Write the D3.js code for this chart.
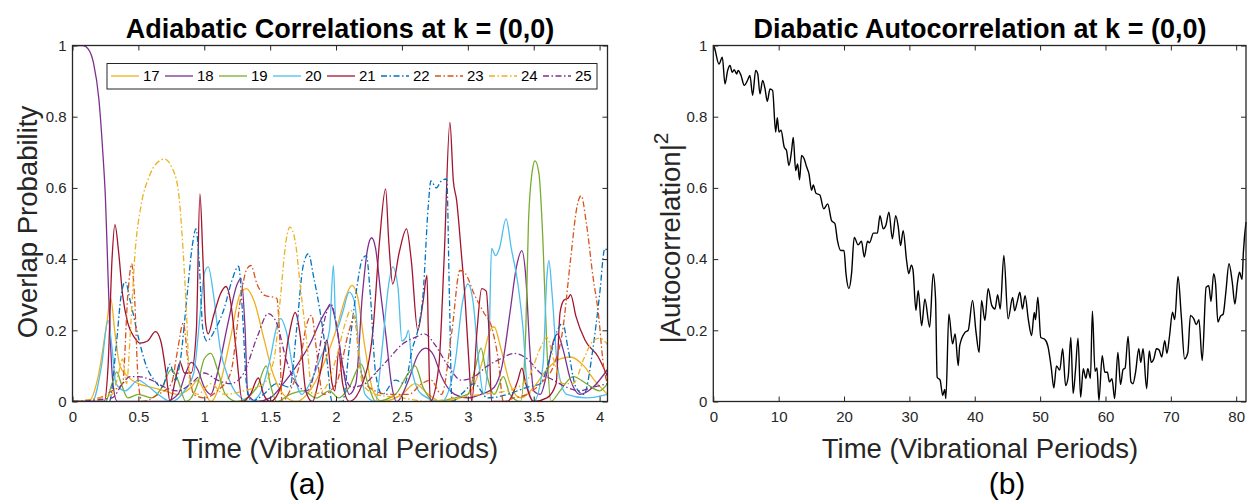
<!DOCTYPE html>
<meta charset="utf-8">
<style>

body {
  margin: 0;
  background: #fff;
  font-family: "Liberation Sans", Arial, Helvetica, sans-serif;
}

.tick line {
  stroke: #262626;
}

.frame {
  fill: none;
  stroke: #262626;
  stroke-width: 1.3px;
}

.title {
  font-size: 27px;
  font-weight: bold;
  text-anchor: middle;
  fill: #000;
}

.label {
  font-size: 27.5px;
  text-anchor: middle;
  fill: #262626;
}

.panel {
  font-size: 30px;
  text-anchor: middle;
  fill: #000;
}

.legend text {
  font-size: 15px;
  fill: #000;
}

</style>

<svg width="1247" height="500"></svg>
<script src="https://d3js.org/d3.v7.min.js"></script>
<script>

// ---- data ----
var leftXTicks = [0, 0.5, 1, 1.5, 2, 2.5, 3, 3.5, 4];
var yTicks = [0, 0.2, 0.4, 0.6, 0.8, 1];
var rightXTicks = [0, 10, 20, 30, 40, 50, 60, 70, 80];

var stateNames = ["17", "18", "19", "20", "21", "22", "23", "24", "25"];
var stateColors = ["#EDB120", "#7E2F8E", "#77AC30", "#4DBEEE", "#A2142F", "#0072BD", "#D95319", "#EDB120", "#7E2F8E"];
var stateDashed = [false, false, false, false, false, true, true, true, true];

var s17 = [[0,0],[0.12,0],[0.2,0.08],[0.26,0.22],[0.29,0.29],[0.32,0.2],[0.36,0.1],[0.42,0.07],[0.5,0.05],[0.6,0.04],[0.7,0.03],[0.8,0.02],[0.9,0.04],[0.95,0.06],[1.0,0.03],[1.05,0.0],[1.12,0.05],[1.2,0.18],[1.27,0.3],[1.32,0.317],[1.38,0.28],[1.45,0.18],[1.52,0.08],[1.6,0.02],[1.7,0.0],[1.8,0.03],[1.9,0.1],[2.0,0.2],[2.08,0.3],[2.12,0.326],[2.16,0.3],[2.22,0.15],[2.28,0.03],[2.35,0.0],[2.5,0.02],[2.6,0.05],[2.7,0.02],[2.8,0.0],[3.0,0.02],[3.1,0.1],[3.17,0.2],[3.2,0.21],[3.25,0.15],[3.32,0.05],[3.4,0.01],[3.5,0.04],[3.6,0.09],[3.7,0.12],[3.78,0.125],[3.88,0.1],[3.96,0.06],[4.06,0.02]];
var s18 = [[0,1],[0.08,1],[0.12,0.99],[0.16,0.95],[0.2,0.85],[0.23,0.7],[0.25,0.57],[0.27,0.35],[0.29,0.15],[0.31,0.04],[0.34,0],[0.5,0],[0.7,0],[0.8,0.02],[0.86,0.08],[0.9,0.11],[0.95,0.09],[1.0,0.04],[1.05,0.02],[1.1,0.08],[1.18,0.22],[1.25,0.33],[1.28,0.346],[1.31,0.2],[1.33,0.02],[1.4,0.0],[1.5,0.01],[1.6,0.05],[1.7,0.1],[1.8,0.16],[1.9,0.24],[1.96,0.27],[2.0,0.22],[2.05,0.1],[2.1,0.02],[2.15,0.05],[2.2,0.3],[2.24,0.43],[2.27,0.46],[2.3,0.43],[2.34,0.3],[2.38,0.18],[2.42,0.05],[2.46,0],[2.55,0.06],[2.62,0.13],[2.68,0.15],[2.74,0.13],[2.8,0.07],[2.9,0.02],[3.0,0.01],[3.1,0.02],[3.2,0.04],[3.26,0.1],[3.32,0.25],[3.37,0.38],[3.41,0.424],[3.44,0.35],[3.47,0.15],[3.5,0.03],[3.55,0.02],[3.6,0.08],[3.65,0.17],[3.68,0.19],[3.72,0.15],[3.78,0.06],[3.85,0.02],[3.95,0.04],[4.06,0.09]];
var s19 = [[0,0],[0.25,0],[0.3,0.05],[0.335,0.083],[0.37,0.05],[0.42,0.01],[0.5,0.02],[0.6,0.01],[0.68,0.04],[0.75,0.09],[0.8,0.06],[0.86,0.0],[0.95,0.05],[1.0,0.12],[1.05,0.135],[1.1,0.09],[1.16,0.02],[1.25,0.0],[1.4,0.04],[1.47,0.1],[1.5,0.05],[1.55,0.0],[1.65,0.02],[1.75,0.03],[1.85,0.01],[1.95,0.03],[2.02,0.01],[2.1,0.04],[2.19,0.105],[2.25,0.04],[2.3,0.0],[2.45,0.02],[2.55,0.08],[2.6,0.1],[2.66,0.04],[2.75,0.0],[2.9,0.01],[3.0,0.02],[3.06,0.1],[3.1,0.15],[3.14,0.08],[3.2,0.02],[3.27,0.07],[3.32,0.02],[3.4,0.0],[3.44,0.2],[3.46,0.5],[3.49,0.65],[3.51,0.676],[3.54,0.64],[3.57,0.45],[3.6,0.15],[3.63,0.0],[3.7,0.03],[3.8,0.07],[3.9,0.05],[4.0,0.03],[4.06,0.05]];
var s20 = [[0,0],[0.15,0],[0.22,0.1],[0.27,0.228],[0.3,0.15],[0.33,0.05],[0.4,0.03],[0.5,0.06],[0.55,0.05],[0.65,0.02],[0.75,0.0],[0.85,0.03],[0.92,0.08],[0.97,0.25],[1.0,0.36],[1.03,0.378],[1.07,0.3],[1.12,0.15],[1.18,0.07],[1.25,0.02],[1.35,0.0],[1.42,0.02],[1.5,0.12],[1.55,0.21],[1.58,0.233],[1.62,0.2],[1.68,0.08],[1.74,0.02],[1.8,0.05],[1.88,0.12],[1.95,0.2],[1.98,0.382],[2.0,0.2],[2.05,0.25],[2.1,0.307],[2.14,0.28],[2.18,0.12],[2.22,0.02],[2.3,0.0],[2.35,0.15],[2.4,0.33],[2.43,0.378],[2.47,0.32],[2.5,0.17],[2.53,0.18],[2.55,0.2],[2.58,0.08],[2.65,0.02],[2.8,0.0],[2.9,0.1],[2.96,0.28],[3.0,0.33],[3.04,0.28],[3.08,0.12],[3.12,0.02],[3.16,0.15],[3.18,0.43],[3.21,0.41],[3.24,0.43],[3.29,0.513],[3.33,0.43],[3.38,0.33],[3.42,0.2],[3.45,0.05],[3.5,0.0],[3.57,0.1],[3.6,0.35],[3.615,0.396],[3.64,0.3],[3.68,0.1],[3.75,0.02],[3.9,0.01],[4.06,0.02]];
var s21 = [[0,0],[0.24,0],[0.27,0.1],[0.3,0.4],[0.322,0.497],[0.35,0.42],[0.38,0.3],[0.42,0.22],[0.47,0.18],[0.51,0.164],[0.57,0.17],[0.63,0.196],[0.67,0.17],[0.71,0.08],[0.74,0.0],[0.78,0.06],[0.816,0.11],[0.85,0.08],[0.9,0.08],[0.94,0.2],[0.967,0.583],[0.99,0.4],[1.01,0.22],[1.03,0.19],[1.07,0.24],[1.12,0.3],[1.165,0.323],[1.2,0.28],[1.24,0.15],[1.29,0.0],[1.35,0.02],[1.41,0.066],[1.45,0.02],[1.5,0.0],[1.58,0.04],[1.64,0.18],[1.69,0.25],[1.73,0.18],[1.77,0.03],[1.82,0.0],[1.88,0.08],[1.93,0.172],[1.97,0.05],[1.99,0.03],[2.02,0.14],[2.05,0.05],[2.1,0.0],[2.2,0.05],[2.28,0.2],[2.33,0.45],[2.376,0.597],[2.4,0.45],[2.43,0.33],[2.48,0.42],[2.535,0.485],[2.57,0.4],[2.62,0.2],[2.66,0.28],[2.69,0.354],[2.7,0.2],[2.715,0.0],[2.78,0.1],[2.82,0.4],[2.864,0.784],[2.89,0.62],[2.915,0.565],[2.95,0.42],[2.98,0.284],[3.01,0.1],[3.03,0.0],[3.07,0.2],[3.105,0.317],[3.14,0.31],[3.16,0.2],[3.18,0.0],[3.3,0.0],[3.38,0.06],[3.41,0.094],[3.44,0.05],[3.5,0.0],[3.6,0.01],[3.67,0.05],[3.7,0.25],[3.73,0.285],[3.76,0.29],[3.78,0.3],[3.82,0.24],[3.89,0.172],[3.99,0.125],[4.06,0.07]];
var s22 = [[0,0],[0.28,0],[0.33,0.15],[0.37,0.3],[0.4,0.336],[0.44,0.28],[0.5,0.18],[0.56,0.1],[0.62,0.06],[0.68,0.04],[0.74,0.105],[0.78,0.06],[0.82,0.12],[0.87,0.3],[0.91,0.44],[0.937,0.485],[0.96,0.4],[0.99,0.2],[1.02,0.17],[1.08,0.2],[1.15,0.26],[1.21,0.34],[1.26,0.38],[1.29,0.25],[1.32,0.05],[1.36,0.0],[1.45,0.02],[1.55,0.05],[1.65,0.04],[1.7,0.2],[1.75,0.38],[1.79,0.415],[1.83,0.35],[1.88,0.25],[1.93,0.12],[1.97,0.0],[2.05,0.0],[2.1,0.15],[2.15,0.3],[2.2,0.4],[2.23,0.41],[2.26,0.3],[2.3,0.08],[2.35,0.02],[2.45,0.06],[2.52,0.05],[2.58,0.15],[2.62,0.2],[2.66,0.3],[2.7,0.55],[2.72,0.62],[2.76,0.6],[2.8,0.62],[2.84,0.625],[2.86,0.3],[2.88,0.0],[2.95,0.02],[3.05,0.05],[3.15,0.01],[3.3,0.02],[3.45,0.04],[3.55,0.05],[3.62,0.12],[3.68,0.2],[3.72,0.22],[3.76,0.15],[3.82,0.04],[3.88,0.02],[3.95,0.15],[4.0,0.3],[4.04,0.43],[4.06,0.42]];
var s23 = [[0,0],[0.2,0.01],[0.3,0.03],[0.38,0.05],[0.42,0.3],[0.449,0.387],[0.47,0.3],[0.5,0.05],[0.53,0.0],[0.65,0.02],[0.75,0.05],[0.8,0.15],[0.84,0.22],[0.88,0.1],[0.92,0.02],[1.0,0.01],[1.1,0.03],[1.2,0.08],[1.28,0.3],[1.32,0.37],[1.354,0.382],[1.4,0.33],[1.46,0.298],[1.55,0.29],[1.57,0.2],[1.59,0.0],[1.65,0.03],[1.72,0.1],[1.78,0.22],[1.815,0.242],[1.85,0.15],[1.9,0.02],[2.0,0.05],[2.1,0.2],[2.14,0.24],[2.18,0.1],[2.25,0.04],[2.4,0.02],[2.55,0.02],[2.65,0.05],[2.72,0.06],[2.8,0.02],[2.88,0.2],[2.94,0.368],[2.98,0.36],[3.05,0.3],[3.12,0.25],[3.18,0.21],[3.23,0.12],[3.27,0.0],[3.35,0.01],[3.45,0.02],[3.55,0.05],[3.65,0.1],[3.72,0.2],[3.78,0.4],[3.83,0.55],[3.86,0.578],[3.9,0.5],[3.95,0.35],[3.99,0.25],[4.03,0.1],[4.06,0.05]];
var s24 = [[0,0],[0.3,0.02],[0.35,0.08],[0.38,0.12],[0.41,0.05],[0.44,0.2],[0.474,0.415],[0.52,0.55],[0.58,0.63],[0.64,0.67],[0.7,0.681],[0.75,0.66],[0.8,0.6],[0.84,0.42],[0.866,0.24],[0.89,0.05],[0.95,0.02],[1.05,0.05],[1.15,0.02],[1.3,0.03],[1.45,0.05],[1.53,0.12],[1.58,0.3],[1.62,0.45],[1.65,0.49],[1.69,0.45],[1.73,0.32],[1.78,0.16],[1.82,0.02],[1.9,0.03],[2.0,0.12],[2.07,0.22],[2.11,0.256],[2.15,0.22],[2.2,0.05],[2.3,0.02],[2.5,0.01],[2.7,0.0],[2.9,0.01],[3.1,0.02],[3.3,0.03],[3.45,0.06],[3.55,0.15],[3.6,0.18],[3.65,0.12],[3.72,0.05],[3.8,0.05],[3.88,0.12],[3.95,0.17],[4.0,0.178],[4.06,0.16]];
var s25 = [[0,0],[0.3,0.01],[0.38,0.05],[0.436,0.07],[0.5,0.07],[0.6,0.06],[0.7,0.04],[0.8,0.03],[0.9,0.05],[1.0,0.08],[1.1,0.06],[1.2,0.05],[1.3,0.08],[1.4,0.18],[1.486,0.247],[1.55,0.22],[1.62,0.12],[1.7,0.05],[1.78,0.03],[1.86,0.12],[1.92,0.24],[1.96,0.275],[2.0,0.22],[2.05,0.1],[2.12,0.04],[2.22,0.05],[2.3,0.08],[2.4,0.12],[2.5,0.16],[2.6,0.18],[2.67,0.19],[2.75,0.16],[2.85,0.1],[2.95,0.06],[3.05,0.07],[3.15,0.1],[3.25,0.12],[3.35,0.135],[3.45,0.12],[3.55,0.08],[3.65,0.06],[3.75,0.04],[3.85,0.03],[3.95,0.04],[4.06,0.05]];
var overlapSeries = [s17, s18, s19, s20, s21, s22, s23, s24, s25];

var autoTime = [0,0.15,0.87,1.38,1.79,2.2,2.55,2.9,3.2,3.57,3.8,4.24,4.74,5.26,5.6,6.02,6.48,6.8,7.14,7.55,7.9,8.26,8.67,9.07,9.54,9.79,10.05,10.36,10.86,11.2,11.57,11.98,12.23,12.6,12.9,13.2,13.5,13.9,14.26,14.63,15.04,15.3,15.7,16.3,16.9,17.5,18.1,18.6,19.0,19.5,20.0,20.3,20.75,21.15,21.56,22.16,22.67,23.1,23.6,23.9,24.5,25.1,25.5,26.0,26.4,26.87,27.4,27.9,28.3,28.65,29.05,29.57,29.9,30.3,30.55,31.0,31.35,31.87,32.37,33.1,33.64,34.0,34.25,34.7,35.1,35.4,35.58,36.04,36.6,37.0,37.47,37.7,38.5,39.0,39.66,40.2,40.67,41.04,41.55,42.05,42.6,43.1,43.5,43.9,44.45,45.1,45.8,46.1,46.5,46.9,47.3,47.7,48.2,48.7,49.1,49.3,49.65,50.1,50.7,51.2,51.7,52.1,52.5,53.0,53.45,53.9,54.3,54.7,55.05,55.4,55.8,56.2,56.6,57.0,57.3,57.7,58.0,58.4,58.7,59.0,59.5,59.9,60.3,60.6,61.0,61.4,61.9,62.3,62.7,63.0,63.46,63.9,64.2,64.6,65.1,65.4,65.75,66.3,66.7,67.0,67.4,67.8,68.2,68.6,69.07,69.4,69.8,70.25,70.6,71.1,71.6,72.1,72.6,73.0,73.5,73.9,74.3,74.8,75.4,75.8,76.15,76.55,76.85,77.2,77.6,78.0,78.4,78.9,79.4,79.8,80.2,80.5,80.9,81.1,81.5];
var autoValue = [1.0,0.995,0.948,0.967,0.892,0.93,0.944,0.925,0.932,0.92,0.93,0.916,0.888,0.903,0.916,0.86,0.93,0.92,0.864,0.902,0.88,0.843,0.878,0.874,0.757,0.797,0.757,0.762,0.714,0.705,0.663,0.705,0.742,0.649,0.667,0.623,0.691,0.682,0.66,0.64,0.593,0.608,0.585,0.58,0.541,0.555,0.508,0.5,0.452,0.424,0.424,0.359,0.317,0.359,0.461,0.44,0.45,0.406,0.45,0.446,0.473,0.473,0.522,0.485,0.495,0.532,0.457,0.522,0.49,0.438,0.48,0.396,0.359,0.383,0.37,0.256,0.312,0.213,0.288,0.209,0.359,0.29,0.068,0.06,0.017,0.034,0.008,0.246,0.162,0.19,0.101,0.157,0.194,0.2,0.284,0.194,0.138,0.284,0.228,0.317,0.27,0.26,0.3,0.26,0.41,0.232,0.292,0.255,0.28,0.307,0.26,0.297,0.23,0.185,0.25,0.23,0.293,0.18,0.175,0.155,0.096,0.038,0.1,0.088,0.148,0.045,0.07,0.18,0.022,0.085,0.178,0.012,0.092,0.065,0.092,0.065,0.254,0.085,0.094,0.003,0.129,0.082,0.082,0.055,0.064,0.008,0.138,0.048,0.09,0.094,0.183,0.055,0.05,0.082,0.148,0.11,0.148,0.036,0.142,0.11,0.12,0.148,0.145,0.125,0.171,0.135,0.184,0.251,0.23,0.351,0.24,0.12,0.137,0.242,0.233,0.216,0.23,0.115,0.321,0.325,0.281,0.359,0.33,0.223,0.24,0.245,0.304,0.387,0.335,0.274,0.335,0.363,0.343,0.419,0.504];

// ---- layout ----
var svg = d3.select("svg");
var plotTop = 45.5, plotBottom = 401.5;
var dashDot = "6,2.5,1.5,2.5";

var y = d3.scaleLinear().domain([0, 1]).range([plotBottom, plotTop]);
var xa = d3.scaleLinear().domain([0, 4.06]).range([72.5, 607.5]);
var xb = d3.scaleLinear().domain([0, 81.5]).range([713.3, 1246]);

function drawAxes(x, xTicks) {
  var x0 = x.range()[0], x1 = x.range()[1];
  var fmt = d3.format("~g");

  // matlab look: inward ticks on all four sides, grey labels
  function clean(g) {
    g.attr("font-family", null).attr("font-size", null);
    g.select(".domain").remove();
    g.selectAll(".tick text")
        .attr("font-size", 15)
        .attr("fill", "#262626");
  }

  svg.append("g")
      .attr("transform", "translate(0," + plotBottom + ")")
      .call(d3.axisBottom(x).tickValues(xTicks).tickSize(-5).tickSizeOuter(0).tickPadding(10).tickFormat(fmt))
      .call(clean);
  svg.append("g")
      .attr("transform", "translate(0," + plotTop + ")")
      .call(d3.axisTop(x).tickValues(xTicks).tickSize(-5).tickSizeOuter(0).tickFormat(""))
      .call(clean);
  svg.append("g")
      .attr("transform", "translate(" + x0 + ",0)")
      .call(d3.axisLeft(y).tickValues(yTicks).tickSize(-5).tickSizeOuter(0).tickPadding(6).tickFormat(fmt))
      .call(clean);
  svg.append("g")
      .attr("transform", "translate(" + x1 + ",0)")
      .call(d3.axisRight(y).tickValues(yTicks).tickSize(-5).tickSizeOuter(0).tickFormat(""))
      .call(clean);
}

// ---- left panel: adiabatic overlaps ----
svg.append("clipPath").attr("id", "clipA")
  .append("rect")
    .attr("x", xa.range()[0]).attr("y", plotTop)
    .attr("width", xa.range()[1] - xa.range()[0]).attr("height", plotBottom - plotTop);

var lineA = d3.line()
    .x(function(d) { return xa(d[0]); })
    .y(function(d) { return y(d[1]); })
    .curve(d3.curveMonotoneX);

svg.append("g")
    .attr("clip-path", "url(#clipA)")
  .selectAll("path")
  .data(overlapSeries)
  .enter().append("path")
    .attr("d", lineA)
    .attr("fill", "none")
    .attr("stroke", function(d, i) { return stateColors[i]; })
    .attr("stroke-width", 1.3)
    .attr("stroke-dasharray", function(d, i) { return stateDashed[i] ? dashDot : null; });

drawAxes(xa, leftXTicks);

svg.append("rect").attr("class", "frame")
    .attr("x", xa.range()[0]).attr("y", plotTop)
    .attr("width", xa.range()[1] - xa.range()[0]).attr("height", plotBottom - plotTop);

// legend
var legend = svg.append("g").attr("class", "legend");
legend.append("rect")
    .attr("x", 107).attr("y", 63.5).attr("width", 490).attr("height", 25.5)
    .attr("fill", "#fff").attr("stroke", "#262626").attr("stroke-width", 1);

var entry = legend.selectAll(".entry")
  .data(stateNames)
  .enter().append("g")
    .attr("class", "entry")
    .attr("transform", function(d, i) { return "translate(" + (111 + i * 54) + ",76)"; });

entry.append("line")
    .attr("x1", 0).attr("x2", 28)
    .attr("stroke", function(d, i) { return stateColors[i]; })
    .attr("stroke-width", 1.3)
    .attr("stroke-dasharray", function(d, i) { return stateDashed[i] ? dashDot : null; });

entry.append("text")
    .attr("x", 32).attr("dy", "0.35em")
    .text(function(d) { return d; });

svg.append("text").attr("class", "title")
    .attr("x", 340).attr("y", 38)
    .text("Adiabatic Correlations at k = (0,0)");

svg.append("text").attr("class", "label")
    .attr("x", 340).attr("y", 458)
    .text("Time (Vibrational Periods)");

svg.append("text").attr("class", "label")
    .attr("transform", "translate(37,222) rotate(-90)")
    .text("Overlap Probability");

svg.append("text").attr("class", "panel")
    .attr("x", 307).attr("y", 494)
    .text("(a)");

// ---- right panel: diabatic autocorrelation ----
var autoPoints = autoTime.map(function(t, i) { return [t, autoValue[i]]; });

var lineB = d3.line()
    .x(function(d) { return xb(d[0]); })
    .y(function(d) { return y(d[1]); })
    .curve(d3.curveMonotoneX);

svg.append("path")
    .datum(autoPoints)
    .attr("d", lineB)
    .attr("fill", "none")
    .attr("stroke", "#000")
    .attr("stroke-width", 1.4);

drawAxes(xb, rightXTicks);

svg.append("rect").attr("class", "frame")
    .attr("x", xb.range()[0]).attr("y", plotTop)
    .attr("width", xb.range()[1] - xb.range()[0]).attr("height", plotBottom - plotTop);

svg.append("text").attr("class", "title")
    .attr("x", 980).attr("y", 38)
    .text("Diabatic Autocorrelation at k = (0,0)");

svg.append("text").attr("class", "label")
    .attr("x", 980).attr("y", 458)
    .text("Time (Vibrational Periods)");

var ylab = svg.append("text").attr("class", "label")
    .attr("transform", "translate(680,238) rotate(-90)");
ylab.append("tspan").text("|Autocorrelation|");
ylab.append("tspan").attr("dy", -12).attr("font-size", 21).text("2");

svg.append("text").attr("class", "panel")
    .attr("x", 1007).attr("y", 494)
    .text("(b)");

</script>
